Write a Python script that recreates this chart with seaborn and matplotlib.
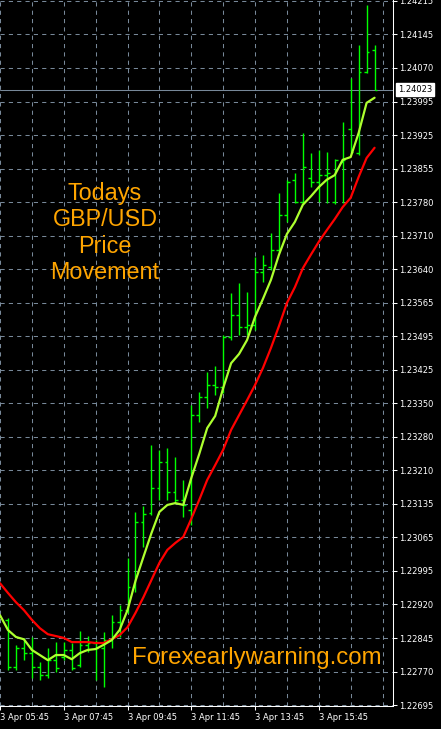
import numpy as np
import pandas as pd
import matplotlib
matplotlib.use("Agg")
import matplotlib.pyplot as plt
import seaborn as sns

# GBP/USD M15 bars, bar 0 = 3 Apr 06:00
bar_open = [1.22879, 1.22777, 1.22818, 1.22807, 1.22777, 1.22760, 1.22792, 1.22799,
            1.22814, 1.22781, 1.22825, 1.22829, 1.22818, 1.22835, 1.22874, 1.22900,
            1.22950, 1.23090, 1.23110, 1.23164, 1.23220, 1.23155, 1.23138, 1.23116,
            1.23321, 1.23360, 1.23386, 1.23382, 1.23490, 1.23537, 1.23511, 1.23515,
            1.23630, 1.23641, 1.23677, 1.23753, 1.23829, 1.23781, 1.23833, 1.23824,
            1.23839, 1.23781, 1.23867, 1.23939, 1.23887, 1.24062, 1.24109]
bar_high = [1.22883, 1.22825, 1.22840, 1.22842, 1.22788, 1.22818, 1.22831, 1.22831,
            1.22829, 1.22855, 1.22844, 1.22835, 1.22853, 1.22889, 1.22911, 1.23012,
            1.23112, 1.23125, 1.23256, 1.23246, 1.23250, 1.23230, 1.23181, 1.23343,
            1.23371, 1.23414, 1.23427, 1.23494, 1.23585, 1.23606, 1.23587, 1.23662,
            1.23667, 1.23714, 1.23800, 1.23829, 1.23844, 1.23930, 1.23887, 1.23893,
            1.23889, 1.23874, 1.23954, 1.24049, 1.24120, 1.24206, 1.24120]
bar_low = [1.22771, 1.22771, 1.22792, 1.22753, 1.22749, 1.22753, 1.22766, 1.22792,
           1.22771, 1.22777, 1.22809, 1.22749, 1.22734, 1.22818, 1.22842, 1.22894,
           1.22939, 1.23036, 1.23105, 1.23138, 1.23138, 1.23133, 1.23101, 1.23084,
           1.23306, 1.23336, 1.23364, 1.23369, 1.23483, 1.23494, 1.23494, 1.23505,
           1.23608, 1.23634, 1.23673, 1.23738, 1.23779, 1.23777, 1.23813, 1.23781,
           1.23779, 1.23777, 1.23779, 1.23887, 1.23882, 1.24060, 1.24023]
bar_close = [1.22777, 1.22818, 1.22807, 1.22777, 1.22760, 1.22792, 1.22775, 1.22814,
             1.22775, 1.22825, 1.22829, 1.22818, 1.22835, 1.22874, 1.22900, 1.22950,
             1.23090, 1.23107, 1.23164, 1.23220, 1.23155, 1.23138, 1.23127, 1.23321,
             1.23360, 1.23386, 1.23382, 1.23490, 1.23537, 1.23511, 1.23515, 1.23630,
             1.23645, 1.23677, 1.23753, 1.23824, 1.23781, 1.23857, 1.23824, 1.23839,
             1.23844, 1.23872, 1.23872, 1.23889, 1.24062, 1.24105, 1.24023]

# moving averages, starting one bar earlier (05:45)
ma_fast = [1.22889, 1.22857, 1.22842, 1.22837, 1.22814, 1.22803, 1.22792, 1.22803,
           1.22803, 1.22794, 1.22807, 1.22814, 1.22816, 1.22825, 1.22835, 1.22857,
           1.22900, 1.22963, 1.23015, 1.23066, 1.23112, 1.23127, 1.23131, 1.23127,
           1.23185, 1.23237, 1.23293, 1.23319, 1.23379, 1.23433, 1.23453, 1.23483,
           1.23533, 1.23572, 1.23613, 1.23667, 1.23712, 1.23738, 1.23775, 1.23793,
           1.23813, 1.23829, 1.23839, 1.23872, 1.23878, 1.23930, 1.23995, 1.24006]
ma_slow = [1.22958, 1.22937, 1.22917, 1.22900, 1.22879, 1.22861, 1.22848, 1.22844,
           1.22840, 1.22831, 1.22831, 1.22831, 1.22829, 1.22829, 1.22837, 1.22846,
           1.22863, 1.22894, 1.22928, 1.22965, 1.23002, 1.23030, 1.23045, 1.23058,
           1.23097, 1.23138, 1.23181, 1.23213, 1.23246, 1.23289, 1.23321, 1.23353,
           1.23386, 1.23423, 1.23466, 1.23513, 1.23563, 1.23597, 1.23638, 1.23667,
           1.23695, 1.23720, 1.23744, 1.23770, 1.23790, 1.23835, 1.23876, 1.23898]

price_labels = ["1.22695", "1.22770", "1.22845", "1.22920", "1.22995", "1.23065",
                "1.23135", "1.23210", "1.23280", "1.23350", "1.23425", "1.23495",
                "1.23565", "1.23640", "1.23710", "1.23780", "1.23855", "1.23925",
                "1.23995", "1.24070", "1.24145", "1.24215"]
time_labels = ["3 Apr 05:45", "3 Apr 07:45", "3 Apr 09:45", "3 Apr 11:45",
               "3 Apr 13:45", "3 Apr 15:45"]
last_price = 1.24023

bar_color = "#00ff00"
grid_color = "#778899"

sns.set_style("dark", {"axes.facecolor": "black", "figure.facecolor": "black"})
plt.rcParams['font.family'] = ['DejaVu Sans']

fig = plt.figure(figsize=(4.41, 7.29), dpi=100)
ax = fig.add_axes([0, 23 / 729, 393 / 441, 706 / 729])
ax.set_facecolor("black")

# OHLC bars: high-low stem, open tick left, close tick right
x = np.arange(len(bar_open))
bar_kw = dict(color=bar_color, lw=1.0, zorder=3)
ax.vlines(x, bar_low, bar_high, **bar_kw)
ax.hlines(bar_open, x - 0.35, x, **bar_kw)
ax.hlines(bar_close, x, x + 0.35, **bar_kw)

ma = pd.DataFrame({"idx": np.arange(-1, len(ma_fast) - 1), "fast": ma_fast, "slow": ma_slow})
sns.lineplot(data=ma, x="idx", y="slow", color="#ff0000", lw=1.6, ax=ax, zorder=4)
sns.lineplot(data=ma, x="idx", y="fast", color="#adff2f", lw=1.6, ax=ax, zorder=5)

ax.axhline(last_price, color=grid_color, lw=0.75, zorder=2)
ax.annotate(f"{last_price:.5f}", xy=(1, last_price), xycoords=ax.get_yaxis_transform(),
            xytext=(3.5, 0), textcoords="offset points", ha="left", va="center",
            fontsize=6, color="black", annotation_clip=False,
            bbox=dict(boxstyle="square,pad=0.25", fc="white", ec="white"))

ax.set_xlim(-0.8125, 48.3125)
ax.set_ylim(1.22693, 1.24217)

ax.set_yticks(np.linspace(1.22695, 1.24215, len(price_labels)))
ax.set_yticklabels(price_labels)
ax.set_xticks(np.arange(-1, 40, 8))
ax.set_xticklabels(time_labels, ha="left")
ax.set_xticks(np.arange(-1, 49, 4), minor=True)

dash = (0, (4, 4))
ax.grid(True, which="both", axis="x", color=grid_color, lw=0.75, linestyle=dash)
ax.grid(True, which="major", axis="y", color=grid_color, lw=0.75, linestyle=dash)
ax.set_axisbelow(True)

ax.yaxis.tick_right()
ax.tick_params(axis="y", which="major", right=True, left=False, labelright=True,
               labelleft=False, length=3, width=0.75, color="white",
               labelcolor="white", labelsize=6, pad=1.5)
ax.tick_params(axis="x", which="major", bottom=True, length=3, width=0.75,
               color="white", labelcolor="white", labelsize=6, pad=2)
ax.tick_params(axis="x", which="minor", length=0)
ax.set_xlabel("")
ax.set_ylabel("")

for side in ["top", "left"]:
    ax.spines[side].set_visible(False)
for side in ["right", "bottom"]:
    ax.spines[side].set_visible(True)
    ax.spines[side].set_color("white")
    ax.spines[side].set_linewidth(0.75)

ax.text(0.267, 0.670, "Todays\nGBP/USD\nPrice\nMovement", transform=ax.transAxes,
        ha="center", va="center", fontsize=16.8, color="#ffa500",
        family=["Liberation Sans"], linespacing=1.17)
ax.text(0.654, 0.0595, "Forexearlywarning.com", transform=ax.transAxes,
        ha="center", va="baseline", fontsize=17.3, color="#ffa500",
        family=["Liberation Sans"])

fig.savefig("out.png", dpi=100, facecolor="black")
